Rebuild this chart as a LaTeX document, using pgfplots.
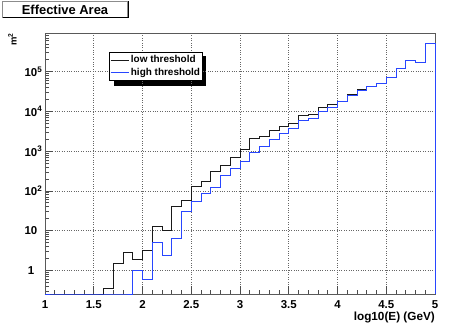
\documentclass[border=0pt]{standalone}
\usepackage{fontspec}
\setmainfont{Liberation Sans}
\usepackage{pgfplots}
\usepackage{pgfplotstable}
\pgfplotsset{compat=1.18}

\definecolor{hiblue}{RGB}{40,70,255}
\definecolor{loblack}{RGB}{25,25,25}

% effective area per 0.1 bin of log10(E); empty bins sit at the frame bottom (ymin)
\pgfplotstableread{
x    lo      hi
1.0  0.253   0.253
1.1  0.253   0.253
1.2  0.253   0.253
1.3  0.253   0.253
1.4  0.253   0.253
1.5  0.253   0.253
1.6  0.352   0.253
1.7  1.50    0.253
1.8  2.77    0.253
1.9  1.89    0.96
2.0  3.06    0.60
2.1  12.5    5.07
2.2  10.3    2.33
2.3  39.9    6.4
2.4  56.5    29.9
2.5  127     53.3
2.6  170     83.4
2.7  303     123
2.8  430     237
2.9  700     355
3.0  1069    542
3.1  2023    914
3.2  2312    1294
3.3  3216    1986
3.4  4124    2813
3.5  4820    3757
3.6  7670    5970
3.7  8460    6745
3.8  12400   9950
3.9  14760   12700
4.0  17990   17780
4.1  25900   25200
4.2  34600   33800
4.3  41900   41500
4.4  51000   50500
4.5  72300   72300
4.6  121900  121900
4.7  189300  186000
4.8  168700  166000
4.9  507000  507000
5.0  0.253   0.253
}\effarea

\begin{document}
\begin{tikzpicture}
\path[use as bounding box] (0,0) rectangle (452bp,327bp);
% legend shadow (ROOT style), drawn first so the legend box covers it
\fill[black] (113.6bp,241bp) rectangle (206bp,270.5bp);
\begin{axis}[
  at={(45bp,33bp)}, anchor=south west,
  scale only axis, width=390bp, height=261bp,
  ymode=log,
  xmin=1, xmax=5, ymin=0.253, ymax=9.4e5,
  clip=false,
  xtick={1,1.5,2,2.5,3,3.5,4,4.5,5},
  xticklabels={1,1.5,2,2.5,3,3.5,4,4.5,5},
  minor x tick num=4,
  ytick={1,10,100,1000,10000,100000},
  yticklabels={1,10,10\rlap{\textsuperscript{2}},10\rlap{\textsuperscript{3}},10\rlap{\textsuperscript{4}},10\rlap{\textsuperscript{5}}},
  minor ytick={0.3,0.4,0.5,0.6,0.7,0.8,0.9,2,3,4,5,6,7,8,9,20,30,40,50,60,70,80,90,
    200,300,400,500,600,700,800,900,2000,3000,4000,5000,6000,7000,8000,9000,
    20000,30000,40000,50000,60000,70000,80000,90000,200000,300000,400000,500000,600000,700000,800000,900000},
  xtick pos=left, ytick pos=left,
  major tick length=8bp, minor tick length=4bp,
  grid=major,
  major grid style={dotted, black!60, line width=0.6bp},
  axis line style={black!65, line width=0.7bp},
  every tick/.style={black!70, line width=0.6bp},
  tick label style={font=\bfseries\fontsize{11.5}{14}\selectfont},
  xticklabel style={anchor=north, inner sep=0pt, yshift=-6.5bp},
  yticklabel style={anchor=center, inner sep=0pt, xshift=-14bp},
  legend style={at={(0.165,0.926)}, anchor=north west, draw=black, line width=0.5bp,
    fill=white, font=\bfseries\fontsize{10}{12}\selectfont,
    inner xsep=0.5bp, inner ysep=1.2bp, row sep=0bp,
    nodes={inner xsep=1.8bp, inner ysep=1.4bp, text height=7.5bp, text depth=2.2bp}},
  legend cell align=left,
  legend image code/.code={\draw[#1, sharp plot] (0bp,0bp) -- (18bp,0bp);},
]
\addplot[const plot, loblack, line width=1bp] table[x=x, y=lo] {\effarea};
\addplot[const plot, hiblue, line width=1bp] table[x=x, y=hi] {\effarea};
\legend{low threshold, high threshold}
\end{axis}
% title box
\draw[black!45, line width=0.5bp, fill=white] (2bp,309.7bp) rectangle (127.7bp,326bp);
\draw[black, line width=1.2bp] (2.5bp,309.4bp) -- (128.2bp,309.4bp) -- (128.2bp,325.5bp);
\node[font=\bfseries\fontsize{13}{15}\selectfont, inner sep=0pt] at (65bp,317.6bp) {Effective Area};
% axis titles
\node[rotate=90, anchor=base east, inner sep=0pt, font=\bfseries\fontsize{9.5}{11}\selectfont] at (16.7bp,294bp) {m\textsuperscript{2}};
\node[anchor=base east, inner sep=0pt, font=\bfseries\fontsize{11.8}{14}\selectfont] at (435bp,6.8bp) {log10(E) (GeV)};
\end{tikzpicture}
\end{document}
